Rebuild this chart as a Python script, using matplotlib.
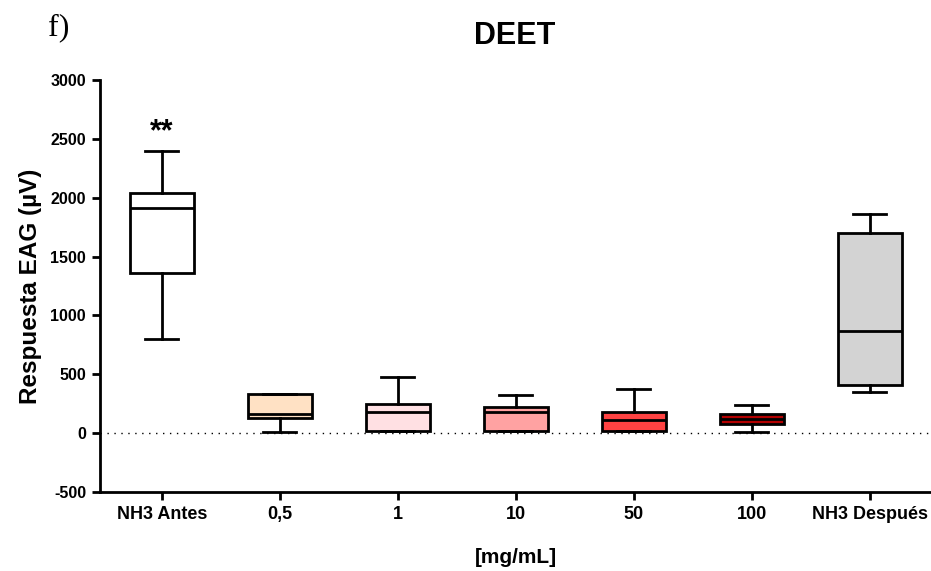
import matplotlib
matplotlib.use("Agg")
import matplotlib.pyplot as plt

# === DATOS ===
categorias = ["NH3 Antes", "0,5", "1", "10", "50", "100", "NH3 Después"]
bigote_inf = [800, 10, 15, 20, 20, 10, 350]
q1 = [1360, 125, 15, 20, 20, 80, 410]
mediana = [1910, 160, 180, 180, 110, 120, 870]
q3 = [2040, 330, 245, 225, 180, 160, 1700]
bigote_sup = [2400, 330, 480, 320, 375, 240, 1860]
colores = ["#FFFFFF", "#FFE1C4", "#FFE0E3", "#FFA2A2", "#FF4242", "#B30000", "#D3D3D3"]

plt.rcParams["font.family"] = ["Liberation Sans", "DejaVu Sans"]
plt.rcParams["axes.unicode_minus"] = False

fig = plt.figure(figsize=(9.31, 5.71), dpi=100)
ax = fig.add_axes([0.1074, 0.1384, 0.8926, 0.7215])

stats = []
for i in range(len(categorias)):
    stats.append({
        "label": categorias[i],
        "whislo": bigote_inf[i],
        "q1": q1[i],
        "med": mediana[i],
        "q3": q3[i],
        "whishi": bigote_sup[i],
    })

lw = 2.0
bp = ax.bxp(stats, positions=range(len(categorias)), widths=0.54, showfliers=False,
            patch_artist=True, capwidths=0.28,
            boxprops=dict(linewidth=lw, edgecolor="black"),
            medianprops=dict(color="black", linewidth=lw),
            whiskerprops=dict(color="black", linewidth=lw),
            capprops=dict(color="black", linewidth=lw))
for caja, c in zip(bp["boxes"], colores):
    caja.set_facecolor(c)

# linea punteada en cero
ax.axhline(0, color="black", linestyle=(0, (1, 4)), linewidth=1.0, zorder=0)

# significancia
ax.text(0, 2560, "**", ha="center", va="center", fontsize=22, fontweight="bold")

ax.set_xlim(-0.525, 6.52)
ax.set_ylim(-500, 3000)
ax.set_yticks(range(-500, 3001, 500))
ax.set_xticks(range(len(categorias)))
ax.set_xticklabels(categorias, fontsize=13, fontweight="bold")
for t in ax.get_yticklabels():
    t.set_fontsize(11.5)
    t.set_fontweight("bold")

for lado in ["top", "right"]:
    ax.spines[lado].set_visible(False)
for lado in ["left", "bottom"]:
    ax.spines[lado].set_linewidth(2.0)
ax.tick_params(axis="both", width=2.0, length=6, direction="out", pad=4)

ax.set_ylabel("Respuesta EAG (µV)", fontsize=17.5, fontweight="bold", labelpad=6)
ax.set_xlabel("[mg/mL]", fontsize=15, fontweight="bold", labelpad=18)
fig.text(0.553, 0.937, "DEET", ha="center", va="center", fontsize=22, fontweight="bold")
fig.text(0.052, 0.938, "f)", fontsize=23, family=["Liberation Serif", "DejaVu Serif"],
         ha="left", va="baseline")

fig.savefig("out.png", dpi=100)
